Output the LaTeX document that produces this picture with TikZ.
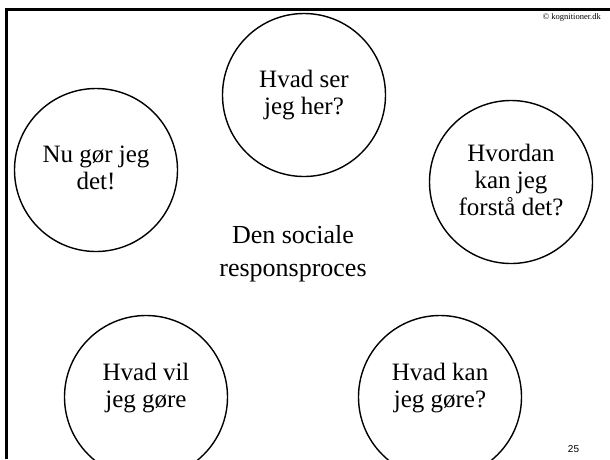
\documentclass[tikz,border=0pt]{standalone}
\usepackage{fontspec}
\setmainfont{Liberation Serif}
\newfontfamily\numfont{Liberation Sans}
\usepackage{tikz}
\usetikzlibrary{arrows,shapes}
\tikzstyle{ring}=[circle, draw
%,fill=black!25
,line width=1.4pt
,minimum size=163pt
,inner sep=0pt
]
\tikzstyle{word}=[align=center, inner sep=0pt
,font=\fontsize{25}{27}\selectfont
]
\tikzstyle{frame} = [draw,line width=3pt,-]

\begin{document}
\begin{tikzpicture}[x=1pt,y=-1pt]
    \useasboundingbox (0,0) rectangle (610,459);
    % Draw the slide frame
    \coordinate (bl) at (6,459);
    \coordinate (tl) at (6,9);
    \coordinate (tr) at (610,9);
    \path[frame] (bl) -- (tl) -- (tr);

    % First we draw the circles
    \foreach \pos/\name in {{(304,95)/ser}, {(96,170)/gor}, {(511,182)/forsta}, {(146,397)/vil}, {(440,397)/kan}}
        \node[ring] (\name) at \pos {};

    % Then the questions inside them
    \foreach \name/\dy/\txt in {ser/0/{Hvad ser\\jeg her?}, gor/2/{Nu gør jeg\\det!}, forsta/2/{Hvordan\\kan jeg\\forstå det?}, vil/9/{Hvad vil\\jeg gøre}, kan/9/{Hvad kan\\jeg gøre?}}
        \node[word] (\name-txt) at ([yshift=\dy pt]\name.center) {\txt};

    % Title in the middle
    \node[word, font=\fontsize{26}{33}\selectfont] (title) at (293,254) {Den sociale\\responsproces};

    % Footer and copyright
    \node[inner sep=0pt, anchor=east, font=\fontsize{8.5}{10}\selectfont] (copy) at (601,17) {© kognitioner.dk};
    \node[inner sep=0pt, font=\numfont\fontsize{10}{12}\selectfont] (page) at (573.5,449) {25};
\end{tikzpicture}
\end{document}
